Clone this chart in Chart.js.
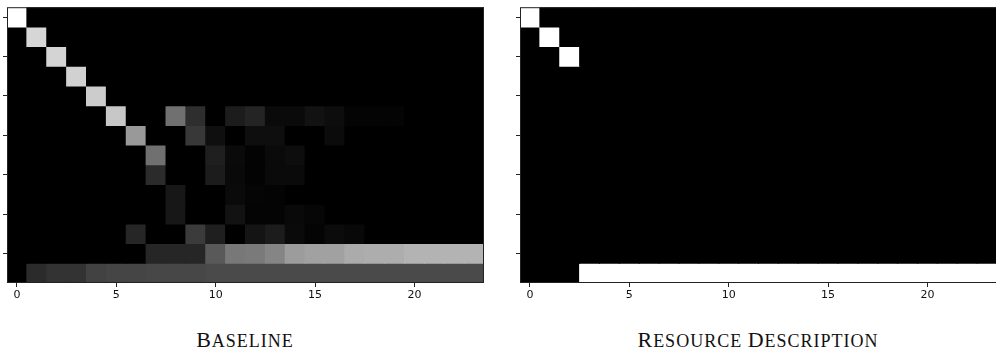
<!DOCTYPE html>
<html>
<head>
<meta charset="utf-8">
<script src="https://cdn.jsdelivr.net/npm/chart.js@4.4.1/dist/chart.umd.min.js"></script>
<style>
  body { margin: 0; background: #fff; width: 996px; height: 351px; overflow: hidden; position: relative; }
  canvas { position: absolute; top: 0; }
  #left { left: 0; }
  #right { left: 498px; }
  .title {
    position: absolute; top: 329px; width: 400px; text-align: center; white-space: nowrap;
    font-family: "Liberation Serif", serif; font-size: 18px; line-height: 22px;
    letter-spacing: 1px; color: #111;
  }
  .title b { font-weight: normal; font-size: 22px; }
</style>
</head>
<body>
<canvas id="left" width="498" height="310"></canvas>
<canvas id="right" width="499" height="310"></canvas>
<div class="title" style="left:45px"><b>B</b>ASELINE</div>
<div class="title" style="left:558px"><b>R</b>ESOURCE <b>D</b>ESCRIPTION</div>
<script>
// column labels (x) and the rows that get a tick mark (y)
const columns = [0, 1, 2, 3, 4, 5, 6, 7, 8, 9, 10, 11, 12, 13, 14, 15, 16, 17, 18, 19, 20, 21, 22, 23];
const xTickLabels = [0, 5, 10, 15, 20];
const yTicks = [0, 2, 4, 6, 8, 10, 12];

// cell intensities, 0 = black, 1 = white, one array per row
const baseline = [
  [1, 0, 0, 0, 0, 0, 0, 0, 0, 0, 0, 0, 0, 0, 0, 0, 0, 0, 0, 0, 0, 0, 0, 0],
  [0, .84, 0, 0, 0, 0, 0, 0, 0, 0, 0, 0, 0, 0, 0, 0, 0, 0, 0, 0, 0, 0, 0, 0],
  [0, 0, .83, 0, 0, 0, 0, 0, 0, 0, 0, 0, 0, 0, 0, 0, 0, 0, 0, 0, 0, 0, 0, 0],
  [0, 0, 0, .82, 0, 0, 0, 0, 0, 0, 0, 0, 0, 0, 0, 0, 0, 0, 0, 0, 0, 0, 0, 0],
  [0, 0, 0, 0, .8, 0, 0, 0, 0, 0, 0, 0, 0, 0, 0, 0, 0, 0, 0, 0, 0, 0, 0, 0],
  [0, 0, 0, 0, 0, .78, 0, 0, .44, .18, 0, .11, .14, .04, .04, .07, .05, .015, .015, .015, 0, 0, 0, 0],
  [0, 0, 0, 0, 0, 0, .6, 0, 0, .22, .06, 0, .055, .055, 0, 0, .045, 0, 0, 0, 0, 0, 0, 0],
  [0, 0, 0, 0, 0, 0, 0, .44, 0, 0, .12, .04, .01, .04, .05, 0, 0, 0, 0, 0, 0, 0, 0, 0],
  [0, 0, 0, 0, 0, 0, 0, .17, 0, 0, .11, .035, .01, .04, .04, 0, 0, 0, 0, 0, 0, 0, 0, 0],
  [0, 0, 0, 0, 0, 0, 0, 0, .09, 0, 0, .04, .02, .015, 0, 0, 0, 0, 0, 0, 0, 0, 0, 0],
  [0, 0, 0, 0, 0, 0, 0, 0, .09, 0, 0, .07, .015, .015, .035, .025, 0, 0, 0, 0, 0, 0, 0, 0],
  [0, 0, 0, 0, 0, 0, .15, 0, 0, .23, .12, 0, .08, .11, .04, .015, .045, .03, 0, 0, 0, 0, 0, 0],
  [0, 0, 0, 0, 0, 0, 0, .15, .15, .15, .35, .47, .48, .52, .61, .63, .63, .67, .68, .68, .7, .7, .7, .7],
  [0, .17, .2, .2, .26, .27, .27, .28, .28, .28, .29, .29, .29, .29, .29, .29, .29, .29, .29, .29, .29, .29, .29, .29]
];

const resource = [
  [1, 0, 0, 0, 0, 0, 0, 0, 0, 0, 0, 0, 0, 0, 0, 0, 0, 0, 0, 0, 0, 0, 0, 0],
  [0, 1, 0, 0, 0, 0, 0, 0, 0, 0, 0, 0, 0, 0, 0, 0, 0, 0, 0, 0, 0, 0, 0, 0],
  [0, 0, 1, 0, 0, 0, 0, 0, 0, 0, 0, 0, 0, 0, 0, 0, 0, 0, 0, 0, 0, 0, 0, 0],
  [0, 0, 0, 0, 0, 0, 0, 0, 0, 0, 0, 0, 0, 0, 0, 0, 0, 0, 0, 0, 0, 0, 0, 0],
  [0, 0, 0, 0, 0, 0, 0, 0, 0, 0, 0, 0, 0, 0, 0, 0, 0, 0, 0, 0, 0, 0, 0, 0],
  [0, 0, 0, 0, 0, 0, 0, 0, 0, 0, 0, 0, 0, 0, 0, 0, 0, 0, 0, 0, 0, 0, 0, 0],
  [0, 0, 0, 0, 0, 0, 0, 0, 0, 0, 0, 0, 0, 0, 0, 0, 0, 0, 0, 0, 0, 0, 0, 0],
  [0, 0, 0, 0, 0, 0, 0, 0, 0, 0, 0, 0, 0, 0, 0, 0, 0, 0, 0, 0, 0, 0, 0, 0],
  [0, 0, 0, 0, 0, 0, 0, 0, 0, 0, 0, 0, 0, 0, 0, 0, 0, 0, 0, 0, 0, 0, 0, 0],
  [0, 0, 0, 0, 0, 0, 0, 0, 0, 0, 0, 0, 0, 0, 0, 0, 0, 0, 0, 0, 0, 0, 0, 0],
  [0, 0, 0, 0, 0, 0, 0, 0, 0, 0, 0, 0, 0, 0, 0, 0, 0, 0, 0, 0, 0, 0, 0, 0],
  [0, 0, 0, 0, 0, 0, 0, 0, 0, 0, 0, 0, 0, 0, 0, 0, 0, 0, 0, 0, 0, 0, 0, 0],
  [0, 0, 0, 0, 0, 0, 0, 0, 0, 0, 0, 0, 0, 0, 0, 0, 0, 0, 0, 0, 0, 0, 0, 0],
  [0, 0, 0, 1, 1, 1, 1, 1, 1, 1, 1, 1, 1, 1, 1, 1, 1, 1, 1, 1, 1, 1, 1, 1]
];

function grey(v) {
  const g = Math.round(v * 255);
  return `rgb(${g},${g},${g})`;
}

// box around the image, like the axes spines
const frame = {
  id: "frame",
  afterDraw(chart) {
    const { ctx, chartArea: a } = chart;
    ctx.save();
    ctx.strokeStyle = "#222";
    ctx.lineWidth = 1;
    ctx.strokeRect(a.left + 0.5, a.top + 0.5, a.right - a.left - 1, a.bottom - a.top - 1);
    ctx.restore();
  },
};

function heatmap(id, grid, yWidth, padRight) {
  // one floating-bar dataset per row, all sharing the same slot on x
  const datasets = grid.map((row, r) => ({
    data: row.map(() => [r - 0.5, r + 0.5]),
    backgroundColor: row.map(grey),
    borderWidth: 0,
    inflateAmount: 0.5,
    barPercentage: 1,
    categoryPercentage: 1,
  }));

  return new Chart(document.getElementById(id), {
    type: "bar",
    data: { labels: columns, datasets: datasets },
    options: {
      responsive: false,
      animation: false,
      layout: { padding: { left: 0, top: 5, right: padRight, bottom: 0 } },
      plugins: { legend: { display: false }, tooltip: { enabled: false } },
      scales: {
        x: {
          stacked: true,
          offset: true,
          border: { display: false },
          grid: {
            offset: false,
            drawOnChartArea: false,
            tickLength: 4,
            color: (c) => (xTickLabels.includes(columns[c.index]) ? "#222" : "rgba(0,0,0,0)"),
          },
          ticks: {
            autoSkip: false,
            maxRotation: 0,
            padding: 2,
            color: "#111",
            font: { family: "DejaVu Sans", size: 11 },
            callback: (v, i) => (xTickLabels.includes(columns[i]) ? columns[i] : ""),
          },
          afterFit: (s) => { s.height = 27; },
        },
        y: {
          type: "linear",
          stacked: false,
          reverse: true,
          min: -0.5,
          max: 13.5,
          border: { display: false },
          grid: { drawOnChartArea: false, tickLength: 4, color: "#222" },
          ticks: { padding: 0, callback: () => "" },
          afterBuildTicks: (s) => { s.ticks = yTicks.map((v) => ({ value: v })); },
          afterFit: (s) => { s.width = yWidth; },
        },
      },
    },
    plugins: [frame],
  });
}

heatmap("left", baseline, 7, 14);
heatmap("right", resource, 22, 0);
</script>
</body>
</html>
